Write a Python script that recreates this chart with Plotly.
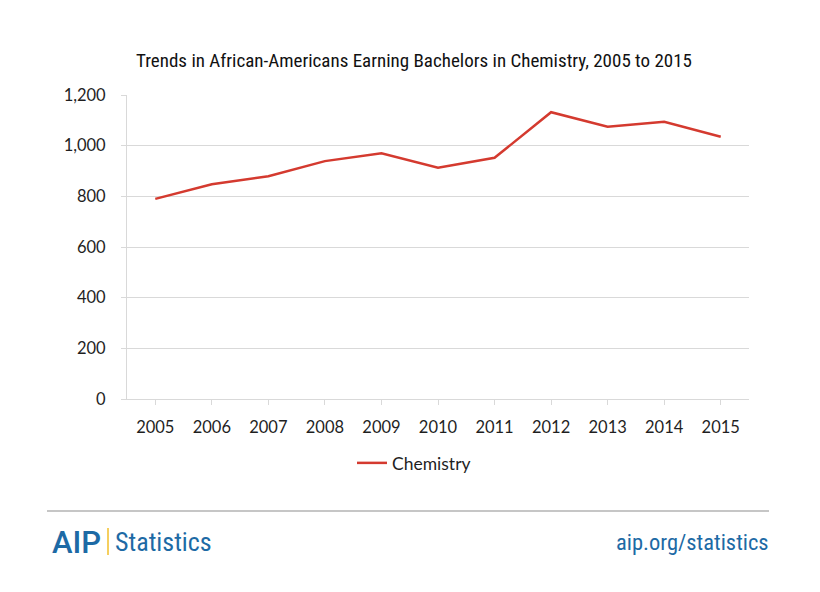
import plotly.graph_objects as go

years = ["2005", "2006", "2007", "2008", "2009", "2010", "2011", "2012", "2013", "2014", "2015"]
chemistry = [790, 848, 879, 939, 970, 913, 952, 1132, 1075, 1094, 1035]
y_ticks = [0, 200, 400, 600, 800, 1000, 1200]

OFF = 8  # page body margin
W, H = 812, 584
# plot area in page pixels
L, R, T, B = 127, 749, 95, 399


def px(x):
    return (x - L) / (R - L)


def py(y):
    return (B - y) / (B - T)


BLUE = "#1d6aa5"
GRID = "#d9d9d9"

fig = go.Figure()
fig.add_trace(go.Scatter(
    x=years, y=chemistry, mode="lines", name="Chemistry",
    line=dict(color="#d43a2f", width=2.5),
))

fig.update_layout(
    width=W, height=H,
    margin=dict(l=L - OFF, r=W - (R - OFF), t=T - OFF, b=H - (B - OFF)),
    paper_bgcolor="white", plot_bgcolor="white",
    font=dict(family="Lato, Open Sans, sans-serif", size=16, color="#1f1f1f"),
    title=dict(
        text="Trends in African-Americans Earning Bachelors in Chemistry, 2005 to 2015",
        x=(414 - OFF) / W, xanchor="center", y=1 - (60 - OFF) / H, yanchor="middle",
        font=dict(family="Liberation Sans Narrow, Roboto Condensed, Arial Narrow, sans-serif", size=19, color="#111111"),
    ),
    xaxis=dict(
        type="category", range=[-0.5, 10.5], showgrid=False, showline=True, linecolor=GRID, linewidth=1,
        ticks="outside", ticklen=5, tickcolor=GRID, tickfont=dict(size=16.5, color="#1f1f1f"),
        ticklabelstandoff=8, fixedrange=True,
    ),
    yaxis=dict(
        range=[0, 1200], tickvals=y_ticks, tickformat=",", showgrid=True, gridcolor=GRID,
        gridwidth=1, showline=True, linecolor=GRID, linewidth=1, zeroline=False,
        ticks="outside", ticklen=5, tickcolor=GRID, tickfont=dict(size=16.5, color="#1f1f1f"),
        ticklabelstandoff=12, fixedrange=True,
    ),
    showlegend=True,
    legend=dict(
        orientation="h", x=px(414), xanchor="center", y=py(463), yanchor="middle",
        font=dict(size=17.5, color="#1f1f1f"), bgcolor="rgba(0,0,0,0)",
    ),
)

# Footer rule
fig.add_shape(type="line", xref="paper", yref="paper",
              x0=px(47), x1=px(769), y0=py(511), y1=py(511),
              line=dict(color="#b3b3b3", width=1.5))
# Yellow divider in logo
fig.add_shape(type="line", xref="paper", yref="paper",
              x0=px(108), x1=px(108), y0=py(528), y1=py(555),
              line=dict(color="#f2bf2a", width=1.5))

fig.add_annotation(text="AIP", xref="paper", yref="paper", x=px(50), y=py(542),
                   xanchor="left", yanchor="middle", showarrow=False,
                   font=dict(family="Roboto, Lato, sans-serif", size=31, color=BLUE, weight=500))
fig.add_annotation(text="Statistics", xref="paper", yref="paper", x=px(113), y=py(542),
                   xanchor="left", yanchor="middle", showarrow=False,
                   font=dict(family="Liberation Sans Narrow, Roboto Condensed, sans-serif", size=26, color=BLUE))
fig.add_annotation(text="aip.org/statistics", xref="paper", yref="paper", x=px(771), y=py(542),
                   xanchor="right", yanchor="middle", showarrow=False,
                   font=dict(family="Liberation Sans Narrow, Roboto Condensed, sans-serif", size=22.5, color=BLUE))

fig.write_html("out.html")
